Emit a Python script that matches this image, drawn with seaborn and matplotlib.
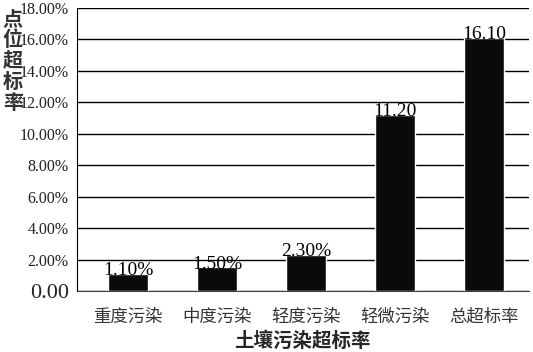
import matplotlib
matplotlib.use("Agg")
import matplotlib.pyplot as plt
import numpy as np
import pandas as pd
import seaborn as sns

categories = ["重度污染", "中度污染", "轻度污染", "轻微污染", "总超标率"]
rates = [1.10, 1.50, 2.30, 11.20, 16.10]
bar_labels = ["1.10%", "1.50%", "2.30%", "11.20", "16.10"]
y_ticks = [0, 2, 4, 6, 8, 10, 12, 14, 16, 18]

df = pd.DataFrame({"category": categories, "rate": rates})

sns.set_style("white")
cjk = ["Noto Sans CJK SC", "DejaVu Sans"]
serif = ["Liberation Serif", "DejaVu Serif"]

fig = plt.figure(figsize=(5.33, 3.52), dpi=100)
ax = fig.add_axes([77 / 533, 1 - 291 / 352, 451.5 / 533, 283 / 352])

sns.barplot(data=df, x="category", y="rate", color="#0a0a0a", width=0.45,
            saturation=1, ax=ax, zorder=3)

ax.set_ylim(0, 18)
ax.set_xlim(-0.573, 4.5)
ax.set_yticks(y_ticks)
ax.set_yticklabels(["0.00" if v == 0 else "%.2f%%" % v for v in y_ticks])
for lab in ax.get_yticklabels():
    lab.set_family(serif)
    lab.set_fontsize(11.5)
    lab.set_color("#222222")
ax.get_yticklabels()[0].set_fontsize(16)
ax.yaxis.grid(True, color="black", linewidth=1, zorder=0)
ax.tick_params(axis="y", length=5, width=1, color="black", pad=1)

ax.set_xticks(range(len(categories)))
ax.set_xticklabels(categories, family=cjk, fontsize=12.5, color="#333333")
ax.set_xticks(np.arange(0.5, 5, 1), minor=True)
ax.tick_params(axis="x", which="major", length=0, pad=12)
ax.tick_params(axis="x", which="minor", length=6, width=1, color="black")

for s in ["top", "right"]:
    ax.spines[s].set_visible(False)
ax.spines["left"].set_color("black")
ax.spines["bottom"].set_color("#444444")

for i, (v, t) in enumerate(zip(rates, bar_labels)):
    ax.text(i, v - 0.35, t, ha="center", va="bottom", family=serif,
            fontsize=14, color="black", zorder=4)

ax.set_xlabel("土壤污染超标率", family=cjk, fontsize=14, fontweight="bold",
              labelpad=4)
ax.set_ylabel("")
fig.text(0.024, 0.978, "\n".join("点位超标率"), family=cjk, fontsize=14.5,
         fontweight="bold", ha="center", va="top", linespacing=1.0,
         color="#333333")

fig.savefig("out.png", dpi=100)
